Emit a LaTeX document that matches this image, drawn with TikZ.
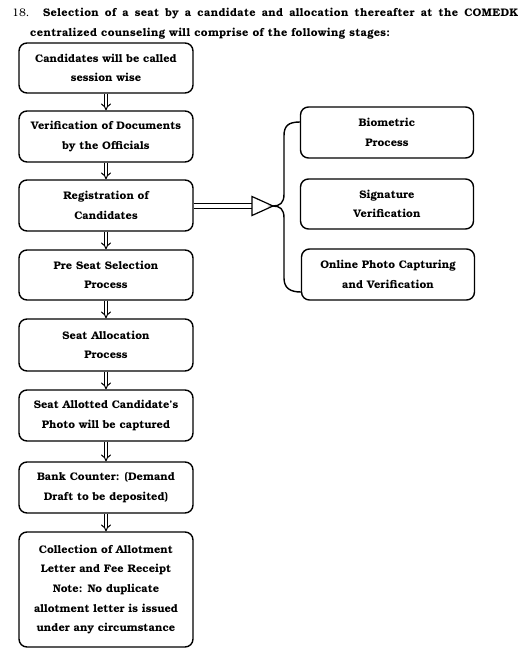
\documentclass[tikz,border=0pt]{standalone}
\usepackage{fontspec}
\setmainfont{texgyrebonum}[Extension=.otf, UprightFont=*-regular, BoldFont=*-bold]
\newfontfamily\titlefont{texgyrebonum}[Extension=.otf, UprightFont=*-bold, LetterSpace=2.5]
\usetikzlibrary{arrows.meta}
\begin{document}
\begin{tikzpicture}[x=1pt,y=-1pt,
  box/.style={draw, line width=1.4pt, rounded corners=8pt, minimum width=174pt, inner sep=2pt,
     align=center, font=\fontsize{11}{19.6}\selectfont\bfseries},
  dbl/.style={line width=1pt, double distance=2.4pt, -{Implies}},
  brace/.style={line width=1.4pt}]
\useasboundingbox (0,0) rectangle (523,656);
% title
\node[anchor=base west, inner sep=0, font=\fontsize{11}{12}\selectfont] (num) at (12,16) {18.};
\node[anchor=base west, inner sep=0, font=\fontsize{11}{12}\selectfont\titlefont] (t1) at (43,16)
  {\makebox[475pt][s]{Selection of a seat by a candidate and allocation thereafter at the COMEDK}};
\node[anchor=base west, inner sep=0, font=\fontsize{11}{12}\selectfont\titlefont] (t2) at (30,36)
  {centralized counseling will comprise of the following stages:};
% left column
\node[box, minimum height=50pt] (b1) at (106,68) {Candidates will be called\\session wise};
\node[box, minimum height=51pt] (b2) at (106,136.5) {Verification of Documents\\by the Officials};
\node[box, minimum height=51pt] (b3) at (106,205.5) {Registration of\\Candidates};
\node[box, minimum height=50pt] (b4) at (106,275) {Pre Seat Selection\\Process};
\node[box, minimum height=52pt] (b5) at (106,345) {Seat Allocation\\Process};
\node[box, minimum height=51pt] (b6) at (106,415.5) {Seat Allotted Candidate’s\\Photo will be captured};
\node[box, minimum height=51pt] (b7) at (106,487.5) {Bank Counter: (Demand\\Draft to be deposited)};
\node[box, minimum height=115pt] (b8) at (106,589.5) {Collection of Allotment\\Letter and Fee Receipt\\Note: No duplicate\\allotment letter is issued\\under any circumstance};
% right column
\node[box, minimum width=173pt, minimum height=51pt] (r1) at (387,132.5) {Biometric\\Process};
\node[box, minimum width=173pt, minimum height=50pt] (r2) at (387,204) {Signature\\Verification};
\node[box, minimum width=173pt, minimum height=51pt] (r3) at (388,274.5) {Online Photo Capturing\\and Verification};
% vertical arrows
\foreach \a/\b in {b1/b2,b2/b3,b3/b4,b4/b5,b5/b6,b6/b7,b7/b8}
  \draw[dbl] (\a.south) -- (\b.north);
% big arrow
\coordinate (tip) at (273,206);
\draw[line width=1pt, double distance=4.5pt] (b3.east |- tip) -- ([xshift=-21pt]tip);
\draw[line width=1.2pt, fill=white, line join=miter] ([xshift=-21pt,yshift=-9.5pt]tip) -- (tip) -- ([xshift=-21pt,yshift=9.5pt]tip) -- cycle;
% brace
\coordinate (btop) at (300,122);
\coordinate (bbot) at (301,292);
\draw[brace] (btop) .. controls (288,122) and (284,126) .. (284,136) -- (284,194)
  .. controls (284,203) and (280,206) .. (tip)
  .. controls (280,206) and (284,209) .. (284,218) -- (284,278)
  .. controls (284,288) and (290,292) .. (bbot);
\end{tikzpicture}
\end{document}
